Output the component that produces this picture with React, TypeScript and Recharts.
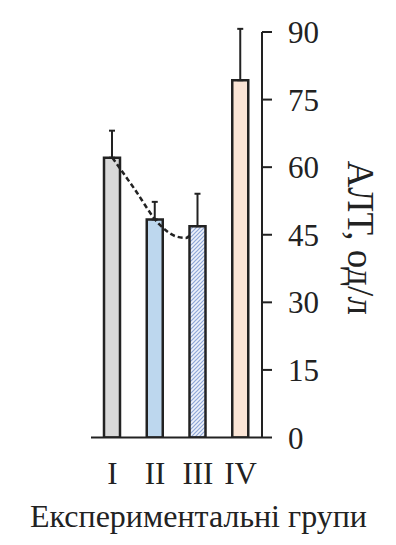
import React from "react";
import {
  ComposedChart,
  Bar,
  Cell,
  ErrorBar,
  Line,
  XAxis,
  YAxis,
  Label,
} from "recharts";

// АЛТ by experimental group, mean with upward SD whisker
const groups = ["I", "II", "III", "IV"];
const altMean = [62.1, 48.4, 46.9, 79.3];
const altSd = [6.0, 3.9, 7.2, 11.4];
const barFills = ["#d9d9d9", "#bdd7ee", "url(#hatchBlue)", "#fbe5d6"];

// dashed trend drawn over groups I–III (x in group index units)
const trendX = [0, 0.5, 1.1, 1.5, 1.72, 1.82];
const trendY = [62.1, 55.4, 47.3, 44.6, 44.3, 44.9];

const yTicks = [0, 15, 30, 45, 60, 75, 90];

const barData = groups.map((g, i) => ({
  group: g,
  alt: altMean[i],
  sd: [0, altSd[i]],
}));

const trendData = trendX.map((x, i) => ({ x, y: trendY[i] }));

const serif = "'Liberation Serif', 'Times New Roman', serif";
const ink = "#222";

export default function App() {
  return (
    <div
      style={{
        position: "absolute",
        left: 0,
        top: 0,
        width: 396,
        height: 545,
        background: "#fff",
        fontFamily: serif,
      }}
    >
      <ComposedChart
        width={396}
        height={545}
        data={barData}
        margin={{ top: 32, right: 0, bottom: 0, left: 91 }}
      >
        <defs>
          <pattern
            id="hatchBlue"
            patternUnits="userSpaceOnUse"
            width="4"
            height="4"
          >
            <rect width="4" height="4" fill="#eef2fa" />
            <path
              d="M-1,1 l2,-2 M0,4 l4,-4 M3,5 l2,-2"
              stroke="#8ea6d6"
              strokeWidth="1.2"
            />
          </pattern>
        </defs>
        <XAxis
          dataKey="group"
          height={107.5}
          tickLine={false}
          tickSize={0}
          tickMargin={24}
          axisLine={{ stroke: ink, strokeWidth: 2 }}
          tick={{ fill: ink, fontSize: 31, fontFamily: serif }}
        >
          <Label
            value="Експериментальні групи"
            position="insideBottom"
            offset={18}
            dx={22}
            fill={ink}
            fontSize={32}
            fontFamily={serif}
          />
        </XAxis>
        <XAxis
          xAxisId="trend"
          type="number"
          dataKey="x"
          domain={[-0.5, 3.5]}
          allowDataOverflow
          hide
        />
        <YAxis
          orientation="right"
          width={134}
          domain={[0, 90]}
          ticks={yTicks}
          allowDataOverflow
          tickSize={10}
          tickMargin={16}
          axisLine={{ stroke: ink, strokeWidth: 2 }}
          tickLine={{ stroke: ink, strokeWidth: 2 }}
          tick={{ fill: ink, fontSize: 31, fontFamily: serif }}
        >
          <Label
            value="АЛТ, од/л"
            angle={90}
            position="center"
            dx={32}
            dy={3}
            fill={ink}
            fontSize={37}
            fontFamily={serif}
          />
        </YAxis>
        <Bar
          dataKey="alt"
          barSize={16}
          stroke={ink}
          strokeWidth={2.5}
          isAnimationActive={false}
        >
          {barData.map((d, i) => (
            <Cell key={d.group} fill={barFills[i]} />
          ))}
          <ErrorBar
            dataKey="sd"
            direction="y"
            width={3}
            stroke={ink}
            strokeWidth={2}
          />
        </Bar>
        <Line
          xAxisId="trend"
          data={trendData}
          dataKey="y"
          type="monotone"
          stroke={ink}
          strokeWidth={2.5}
          strokeDasharray="5 3"
          dot={false}
          activeDot={false}
          isAnimationActive={false}
        />
      </ComposedChart>
    </div>
  );
}
